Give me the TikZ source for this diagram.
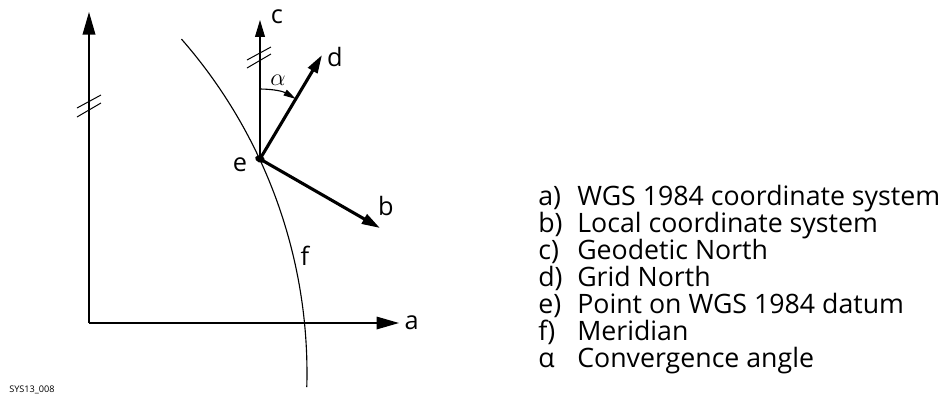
\documentclass[tikz,border=0pt]{standalone}
\usepackage{fontspec}
\setmainfont{Open Sans}
\usetikzlibrary{arrows.meta}

\tikzset{
  thinline/.style={line width=0.8pt},
  axisline/.style={line width=0.9pt, -{Triangle[length=16pt,width=9pt]}},
  northline/.style={line width=0.8pt, -{Triangle[length=12pt,width=7pt]}},
  vecline/.style={line width=2.2pt, -{Triangle[length=13pt,width=7.5pt]}},
  breakmark/.style={line width=0.7pt},
  lbl/.style={font=\fontsize{18}{20}\selectfont, inner sep=1pt},
  legkey/.style={font=\fontsize{19}{21}\selectfont, inner sep=0pt, anchor=base west},
  legtext/.style={font=\fontsize{19}{21}\selectfont, inner sep=0pt, anchor=base west},
}

\begin{document}
\begin{tikzpicture}[x=0.025cm,y=-0.025cm]
  \useasboundingbox (0,0) rectangle (950,403);

  % WGS 1984 coordinate system
  \coordinate (orig) at (89,323);
  \coordinate (ytip) at (89,12);
  \coordinate (xtip) at (399,323);
  \draw[axisline] (orig) -- (ytip);
  \draw[axisline] (orig) -- (xtip);
  \node[lbl, anchor=west] (a) at (403,323) {a};
  \draw[breakmark] (77,108) -- (101,95) (77,117) -- (101,103);

  % meridian (arc of a large circle)
  \draw[thinline] plot[domain=-41.2:1.6, samples=60] ({-200+507*cos(\x)}, {373+507*sin(\x)});
  \node[lbl] (f) at (305,256) {f};

  % point e with local system
  \coordinate (e) at (260,159);
  \coordinate (ctip) at (260,20);
  \coordinate (dtip) at (322,55);
  \coordinate (btip) at (380,228);
  \draw[northline] (e) -- (ctip);
  \draw[breakmark] (247,60) -- (271,47) (247,68) -- (271,54);
  \draw[vecline] (e) -- (dtip);
  \draw[vecline] (e) -- (btip);
  \fill[rotate around={-20:(e)}] (e) ellipse (5 and 3.5);
  \node[lbl] (c) at (277,17) {c};
  \node[lbl] (d) at (335,57) {d};
  \node[lbl] (b) at (386,206) {b};
  \node[lbl] (elbl) at (240,165) {e};

  % convergence angle
  \coordinate (astart) at (260,89);
  \coordinate (aend) at (296,99);
  \draw[thinline, -{Triangle[length=9pt,width=4.5pt]}] (astart) to[bend left=15] (aend);
  \node[font=\fontsize{18}{20}\selectfont, inner sep=0pt] (alpha) at (278,80) {$\alpha$};

  % legend
  \foreach \k/\t [count=\i] in {a)/WGS 1984 coordinate system, b)/Local coordinate system,
      c)/Geodetic North, d)/Grid North, e)/Point on WGS 1984 datum, f)/Meridian,
      α/Convergence angle}
  {
    \node[legkey] (key\i) at (538,{205+27*(\i-1)}) {\k};
    \node[legtext] (item\i) at (577,{205+27*(\i-1)}) {\t};
  }

  \node[font=\fontsize{6.5}{8}\selectfont, inner sep=0pt, anchor=base west] (figid) at (9,392) {SYS13\_008};
\end{tikzpicture}
\end{document}
